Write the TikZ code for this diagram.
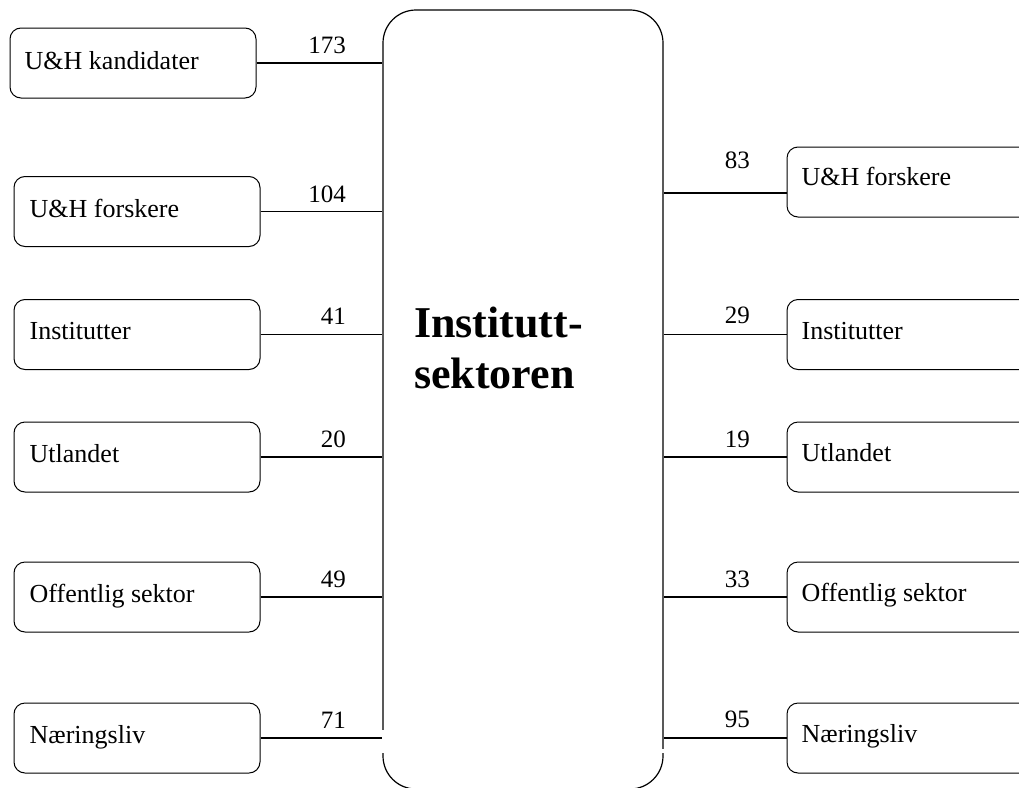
\documentclass[tikz,border=0pt]{standalone}
\usepackage{fontspec}
\setmainfont{Liberation Serif}
\begin{document}
\begin{tikzpicture}[x=1pt,y=-1pt,
  box/.style={draw, line width=1pt, rounded corners=11pt, minimum width=246pt, minimum height=70pt, inner sep=0pt},
  bigbox/.style={draw, line width=1.2pt, rounded corners=33pt, minimum width=280pt, minimum height=779pt, inner sep=0pt},
  lbl/.style={font=\fontsize{26}{30}\selectfont, anchor=base west, inner sep=0pt},
  num/.style={font=\fontsize{25}{30}\selectfont, anchor=base east, inner sep=0pt},
  conn/.style={line width=1.2pt}]
\clip (0,0) rectangle (1019,787);
% central box
\node[bigbox] (big) at (523,399.5) {};
\fill[white] (380,730) rectangle (386,753);
\fill[white] (660,749) rectangle (666,753);
\node[anchor=base west, inner sep=0pt, align=left, font=\bfseries\fontsize{44}{51}\selectfont] (title) at (414,388) {Institutt-\\sektoren};
% left boxes
\node[box] (l1) at (133,63) {};
\node[box] (l2) at (137,211.5) {};
\node[box] (l3) at (137,334.5) {};
\node[box] (l4) at (137,457) {};
\node[box] (l5) at (137,597) {};
\node[box] (l6) at (137,738) {};
\node[lbl] (t1) at ([xshift=15pt,yshift=-42pt]l1.north west) {U\&H kandidater};
\node[lbl] (t2) at ([xshift=16pt,yshift=-41pt]l2.north west) {U\&H forskere};
\node[lbl] (t3) at ([xshift=16pt,yshift=-40.5pt]l3.north west) {Institutter};
\node[lbl] (t4) at ([xshift=16pt,yshift=-40.5pt]l4.north west) {Utlandet};
\node[lbl] (t5) at ([xshift=16pt,yshift=-40.5pt]l5.north west) {Offentlig sektor};
\node[lbl] (t6) at ([xshift=16pt,yshift=-40.5pt]l6.north west) {Næringsliv};
% right boxes
\node[box] (r1) at (910,182) {};
\node[box] (r2) at (910,334.5) {};
\node[box] (r3) at (910,457) {};
\node[box] (r4) at (910,597) {};
\node[box] (r5) at (910,738) {};
\node[lbl] (s1) at ([xshift=15pt,yshift=-39pt]r1.north west) {U\&H forskere};
\node[lbl] (s2) at ([xshift=15pt,yshift=-40pt]r2.north west) {Institutter};
\node[lbl] (s3) at ([xshift=15pt,yshift=-40pt]r3.north west) {Utlandet};
\node[lbl] (s4) at ([xshift=15pt,yshift=-40pt]r4.north west) {Offentlig sektor};
\node[lbl] (s5) at ([xshift=15pt,yshift=-40pt]r5.north west) {Næringsliv};
% connectors left
\foreach \b in {l1,l2,l3,l4,l5,l6}{
  \draw[conn] (\b.east) -- (\b.east -| big.west);
}
% connectors right
\coordinate (r1in) at ([yshift=-11pt]r1.west);
\draw[conn] (r1in) -- (r1in -| big.east);
\foreach \b in {r2,r3,r4,r5}{
  \draw[conn] (\b.west) -- (\b.west -| big.east);
}
% numbers
\node[num] (n1) at (346,53) {173};
\node[num] (n2) at (346,202) {104};
\node[num] (n3) at (346,324) {41};
\node[num] (n4) at (346,447) {20};
\node[num] (n5) at (346,587) {49};
\node[num] (n6) at (346,728) {71};
\node[num] (m1) at (750,168) {83};
\node[num] (m2) at (750,323) {29};
\node[num] (m3) at (750,447) {19};
\node[num] (m4) at (750,587) {33};
\node[num] (m5) at (750,727) {95};
\end{tikzpicture}
\end{document}
